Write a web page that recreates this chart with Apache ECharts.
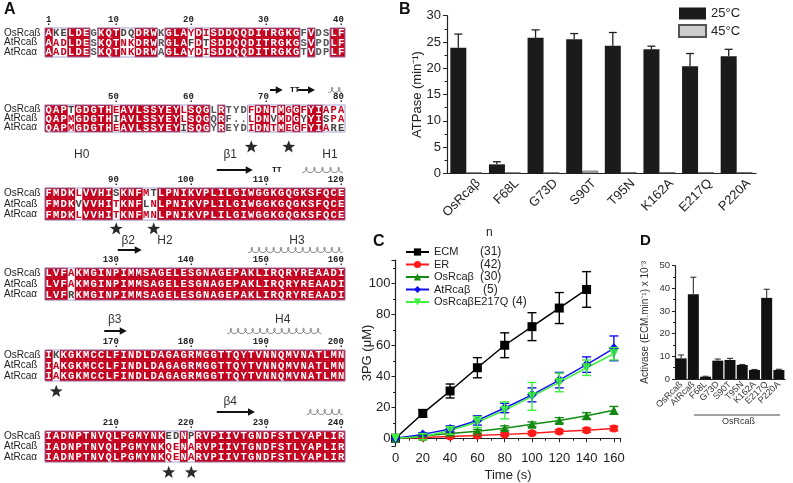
<!DOCTYPE html>
<html><head><meta charset="utf-8">
<script src="https://cdn.jsdelivr.net/npm/echarts@6/dist/echarts.min.js"></script>
<style>html,body{margin:0;padding:0;background:#fff}#c{width:793px;height:483px}</style>
</head><body><div id="c"></div>
<script>
// ================= DATA =================
// Panel A: alignment
const seqNames = ['OsRcaß', 'AtRcaß', 'AtRcaα'];
const seqOsRcab = 'AKELDEGKQTDQDRWKGLAYDISDDQQDITRGKGFVDSLF' + 'QAPTGDGTHEAVLSSYEYLSQGLRTYDFDNTMGGFYIAPA' +
  'FMDKLVVHISKNFMTLPNIKVPLILGIWGGKGQGKSFQCE' + 'LVFAKMGINPIMMSAGELESGNAGEPAKLIRQRYREAADI' +
  'IKKGKMCCLFINDLDAGAGRMGGTTQYTVNNQMVNATLMN' + 'IADNPTNVQLPGMYNKEDNPRVPIIVTGNDFSTLYAPLIR';
const seqAtRcab = 'AADLDESKQTNKDRWRGLAFDTSDDQQDITRGKGSVPDLF' + 'QAPMGDGTHIAVLSSYEYLSQGQRF..LDNVMDGYYISPA' +
  'FMDKVVVHITKNFLNLPNIKVPLILGIWGGKGQGKSFQCE' + 'LVFAKMGINPIMMSAGELESGNAGEPAKLIRQRYREAADI' +
  'IAKGKMCCLFINDLDAGAGRMGGTTQYTVNNQMVNATLMN' + 'IADNPTNVQLPGMYNKQENARVPIIVTGNDFSTLYAPLIR';
const seqAtRcaa = 'AADLDESKQTNKDRWAGLAYDISDDQQDITRGKGTVDPLF' + 'QAPMGDGTHEAVLSSYEYISQGYREYDIDNTMEGFYIARE' +
  'FMDKLVVHITKNFMNLPNIKVPLILGIWGGKGQGKSFQCE' + 'LVFRKMGINPIMMSAGELESGNAGEPAKLIRQRYREAADI' +
  'IAKGKMCCLFINDLDAGAGRMGGTTQYTVNNQMVNATLMN' + 'IADNPTNVQLPGMYNKQENARVPIIVTGNDFSTLYAPLIR';
const nonConserved = [7, 16, 35, 37, 38, 63, 65, 66, 67];
const numberMarks = [1, 10, 20, 30, 40, 50, 60, 70, 80, 90, 100, 110, 120, 130, 140, 150, 160, 170, 180, 190, 200, 210, 220, 230, 240];
const starredResidues = [68, 73, 90, 95, 162, 217, 220];
const helices = [[78.3, 80.2], [80.5, 91.2], [114.8, 120.2], [120.5, 125.4], [147.6, 160.2], [160.5, 162.5], [184.8, 197.4], [235.4, 240.2]];
const strands = [[70.5, 72.2], [74.2, 76.5], [103.4, 108.2], [130.2, 133.4], [168.4, 171.4], [223.4, 228.5]];
const turns = [73.8, 111.4];
const ssLabels = [['H0', 85.4], ['β1', 105.2], ['H1', 118.5], ['β2', 131.6], ['H2', 136.5], ['H3', 154.1], ['β3', 169.8], ['H4', 192.2], ['β4', 225.2]];

// Panel B: ATPase
const categoriesB = ['OsRcaβ', 'F68L', 'G73D', 'S90T', 'T95N', 'K162A', 'E217Q', 'P220A'];
const atpase25 = [23.9, 1.7, 25.8, 25.5, 24.3, 23.6, 20.4, 22.3];
const atpase25Err = [2.6, 0.5, 1.5, 1.1, 2.5, 0.6, 2.4, 1.3];
const atpase45 = [0.15, 0.15, 0.15, 0.5, 0.2, 0.2, 0.2, 0.2];

// Panel C: 3PG time course
const timeC = [0, 20, 40, 60, 80, 100, 120, 140, 160];
const ecm = [0, 16, 30.5, 45.5, 60, 72, 84, 96];
const ecmErr = [0, 2.5, 4.5, 6.5, 8, 9, 10, 11.5];
const er = [0, 0.5, 1.2, 1.8, 2.5, 3.3, 4.3, 5.2, 6.3];
const erErr = [0, 0.6, 0.8, 1, 1, 1.1, 1.2, 1.3, 1.5];
const osRcab = [0, 1.5, 3, 4.5, 6.5, 9, 11.5, 14.5, 18];
const osRcabErr = [0, 0.8, 1, 1.2, 1.5, 1.5, 1.8, 2, 2.5];
const atRcab = [0, 2.5, 6, 11.5, 19.5, 28, 37.5, 47.5, 58];
const atRcabErr = [0, 1, 2, 3, 3, 4.5, 5, 5, 8];
const e217q = [0, 1, 5, 10.5, 18, 27, 36, 45.5, 54.5];
const e217qErr = [0, 2, 2.5, 3.5, 5.5, 9, 6, 5, 4];
const legendC = ['ECM', 'ER', 'OsRcaβ', 'AtRcaβ', 'OsRcaβE217Q'];
const nCounts = ['(31)', '(42)', '(30)', '(5)', '(4)'];

// Panel D: Activase
const categoriesD = ['OsRcaß', 'AtRcaß', 'F68L', 'G73D', 'S90T', 'T95N', 'K162A', 'E217Q', 'P220A'];
const activase = [9.1, 37.4, 1.0, 8.1, 8.4, 6.2, 4.0, 35.8, 4.0];
const activaseErr = [1.5, 7.5, 0.2, 0.7, 0.7, 0.2, 0.2, 3.8, 0.3];

// ================= LAYOUT =================
const FONT = '"Liberation Sans", Arial, sans-serif';
const MONO = '"Liberation Mono", "Courier New", monospace';
const RED = '#c3001e';
const blockTop = [28, 105, 188, 268, 350, 431];
const blockH = [29, 27, 32, 32, 31, 31];
const ssOff = [18, 15, 18, 18, 19, 19];
const labelOff = [0, 0, 33, 27, 30, 29];
const starOff = [10.5, 15, 9, 10.5, 10.5, 10.5];
const countX = [480, 480, 480, 483, 512];
const seqs = [seqOsRcab, seqAtRcab, seqAtRcaa];

function colClass(p) {
  const a = seqOsRcab[p - 1], b = seqAtRcab[p - 1], c = seqAtRcaa[p - 1];
  if (a === b && b === c) return 'i';
  if (nonConserved.includes(p)) return 'n';
  return 's';
}
function letterColor(p, r, cls) {
  if (cls === 'i') return '#ffffff';
  if (cls === 'n') return '#555555';
  const L = seqs.map(s => s[p - 1]);
  const me = L[r], others = L.filter((x, j) => j !== r);
  if (others[0] === others[1] && me !== others[0]) return '#444444';
  return RED;
}
function helixPts(x1, x2, y) {
  const pts = []; const n = Math.max(1, Math.round((x2 - x1) / 7.5));
  const T = 2 * Math.PI * n; const kk = (x2 - x1) / T; const a = 2.1, b = 2.6;
  for (let t = 0; t <= T + 1e-6; t += 0.2) pts.push([x1 + kk * t + a * Math.sin(t), y - b * (1 - Math.cos(t))]);
  return pts;
}
function starPts(cx, cy, R, r0) {
  const pts = [];
  for (let i = 0; i < 10; i++) {
    const ang = -Math.PI / 2 + i * Math.PI / 5; const rr = i % 2 ? r0 : R;
    pts.push([cx + rr * Math.cos(ang), cy + rr * Math.sin(ang)]);
  }
  return pts;
}
function txt(x, y, text, font, fill, align, valign) {
  return { type: 'text', style: { x, y, text, font, fill, align: align || 'center', textAlign: align || 'center', verticalAlign: valign || 'middle', textVerticalAlign: valign || 'middle' } };
}

const grids = [], xAxes = [], yAxes = [], series = [];
for (let k = 0; k < 6; k++) {
  grids.push({ left: 45, width: 300, top: blockTop[k], height: blockH[k] });
  xAxes.push({ gridIndex: k, type: 'value', min: k * 40 + 0.5, max: k * 40 + 40.5, show: false });
  yAxes.push({ gridIndex: k, type: 'category', data: seqNames, inverse: true,
    axisLine: { show: false }, axisTick: { show: false }, splitLine: { show: false },
    axisLabel: { interval: 0, align: 'left', margin: 41, fontSize: 10, color: '#222', fontFamily: FONT } });
  // cells
  const cells = [], meta = [];
  for (let p = k * 40 + 1; p <= k * 40 + 40; p++) {
    const cls = colClass(p);
    for (let r = 0; r < 3; r++) {
      cells.push([p, r]);
      meta.push({ letter: seqs[r][p - 1], color: letterColor(p, r, cls), bg: cls === 'i' ? RED : null });
    }
  }
  series.push({ type: 'custom', xAxisIndex: k, yAxisIndex: k, data: cells, silent: true, z: 2, clip: false,
    renderItem: (params, api) => {
      const m = meta[params.dataIndex];
      const c = api.coord([api.value(0), api.value(1)]); const s = api.size([1, 1]);
      const ch = [];
      if (m.bg) ch.push({ type: 'rect', shape: { x: c[0] - s[0] / 2 - 0.2, y: c[1] - s[1] / 2 - 0.2, width: s[0] + 0.4, height: s[1] + 0.4 }, style: { fill: m.bg } });
      ch.push(txt(c[0], c[1] + 0.5, m.letter, 'bold 10.5px ' + MONO, m.color));
      return { type: 'group', children: ch };
    } });
  // frames
  const runs = []; let st = null;
  for (let p = k * 40 + 1; p <= k * 40 + 41; p++) {
    const ok = p <= k * 40 + 40 && colClass(p) !== 'n';
    if (ok && st === null) st = p;
    if (!ok && st !== null) { runs.push([st, p - 1]); st = null; }
  }
  series.push({ type: 'custom', xAxisIndex: k, yAxisIndex: k, data: runs, silent: true, z: 3, clip: false,
    renderItem: (params, api) => {
      const a = api.coord([api.value(0) - 0.5, 0]); const b = api.coord([api.value(1) + 0.5, 2]); const s = api.size([1, 1]);
      return { type: 'rect', shape: { x: a[0], y: a[1] - s[1] / 2, width: b[0] - a[0], height: b[1] - a[1] + s[1] }, style: { fill: null, stroke: '#8a8ac8', lineWidth: 0.8 } };
    } });
  // decorations: numbers, stars, secondary structure
  const lo = k * 40 + 0.5, hi = k * 40 + 40.5;
  const deco = [];
  numberMarks.filter(n => n > lo && n < hi).forEach(n => deco.push({ t: 'num', x: n, v: String(n) }));
  starredResidues.filter(n => n > lo && n < hi).forEach(n => deco.push({ t: 'star', x: n }));
  helices.filter(h => h[0] > lo && h[0] < hi).forEach(h => deco.push({ t: 'helix', x: h[0], x2: h[1] }));
  strands.filter(h => h[0] > lo && h[0] < hi).forEach(h => deco.push({ t: 'strand', x: h[0], x2: h[1] }));
  turns.filter(h => h > lo && h < hi).forEach(h => deco.push({ t: 'turn', x: h }));
  ssLabels.filter(h => h[1] > lo && h[1] < hi).forEach(h => deco.push({ t: 'label', x: h[1], v: h[0] }));
  series.push({ type: 'custom', xAxisIndex: k, yAxisIndex: k, data: deco.map(d => [d.x, 0]), silent: true, z: 4, clip: false,
    renderItem: (params, api) => {
      const d = deco[params.dataIndex]; const s = api.size([1, 1]);
      const c0 = api.coord([d.x, 0]); const top = c0[1] - s[1] / 2; const bottom = api.coord([d.x, 2])[1] + s[1] / 2;
      const x = c0[0]; const ssY = top - ssOff[k];
      if (d.t === 'num') return { type: 'group', children: [
        txt(x + 2.6, top - 8.5, d.v, 'bold 9px ' + MONO, '#222', 'right'),
        { type: 'rect', shape: { x: x - 0.7, y: top - 4.5, width: 1.4, height: 1.4 }, style: { fill: '#222' } }] };
      if (d.t === 'star') return { type: 'polygon', shape: { points: starPts(x, bottom + starOff[k], 6.8, 2.8) }, style: { fill: '#2a2a2a' } };
      if (d.t === 'helix') { const x2 = api.coord([d.x2, 0])[0];
        return { type: 'polyline', shape: { points: helixPts(x, x2, ssY + 2.5) }, style: { stroke: '#555', lineWidth: 0.8, fill: null } }; }
      if (d.t === 'strand') { const x2 = api.coord([d.x2, 0])[0];
        return { type: 'group', children: [
          { type: 'line', shape: { x1: x, y1: ssY, x2: x2 - 5, y2: ssY }, style: { stroke: '#111', lineWidth: 2 } },
          { type: 'polygon', shape: { points: [[x2 - 7, ssY - 3.8], [x2, ssY], [x2 - 7, ssY + 3.8]] }, style: { fill: '#111' } }] }; }
      if (d.t === 'turn') return txt(x, ssY, 'TT', 'bold 8px ' + MONO, '#111');
      if (d.t === 'label') return txt(x, top - labelOff[k], d.v, '12px ' + FONT, '#333');
      return null;
    } });
}

// ---------- Panel B ----------
grids.push({ left: 447, right: 37, top: 15.7, bottom: 309.7 });
xAxes.push({ gridIndex: 6, type: 'category', data: categoriesB,
  axisLine: { lineStyle: { color: '#222', width: 1.2 } }, axisTick: { show: false },
  axisLabel: { show: false } });
yAxes.push({ gridIndex: 6, type: 'value', min: 0, max: 30, interval: 5,
  name: 'ATPase (min\u207B\u00B9)', nameLocation: 'middle', nameGap: 23, nameMoveOverlap: false,
  nameTextStyle: { fontSize: 13, color: '#222', fontFamily: FONT },
  axisLine: { show: true, lineStyle: { color: '#222', width: 1.2 } },
  axisTick: { show: true, length: 4, lineStyle: { color: '#222' } },
  minorTick: { show: true, splitNumber: 2, length: 2.5, lineStyle: { color: '#222' } },
  splitLine: { show: false },
  axisLabel: { fontSize: 13, color: '#222', margin: 6, fontFamily: FONT } });
series.push({ name: '25°C', type: 'bar', xAxisIndex: 6, yAxisIndex: 6, data: atpase25, barWidth: 16, barGap: '0%',
  itemStyle: { color: '#1b1b1b' } });
series.push({ name: '45°C', type: 'bar', xAxisIndex: 6, yAxisIndex: 6, data: atpase45, barWidth: 16, barGap: '0%',
  itemStyle: { color: '#cdcdcd', borderColor: '#555', borderWidth: 0.8 } });
series.push({ type: 'custom', xAxisIndex: 6, yAxisIndex: 6, silent: true, z: 5,
  data: atpase25.map((v, i) => [i, v, v + atpase25Err[i]]),
  renderItem: (params, api) => {
    const a = api.coord([api.value(0), api.value(1)]), b = api.coord([api.value(0), api.value(2)]);
    const x = a[0] - 8;
    return { type: 'group', children: [
      { type: 'line', shape: { x1: x, y1: a[1], x2: x, y2: b[1] }, style: { stroke: '#222', lineWidth: 1.3 } },
      { type: 'line', shape: { x1: x - 4, y1: b[1], x2: x + 4, y2: b[1] }, style: { stroke: '#222', lineWidth: 1.3 } }] };
  } });
// rotated category labels for B
series.push({ type: 'custom', xAxisIndex: 6, yAxisIndex: 6, silent: true, clip: false, z: 5,
  data: categoriesB.map((c, i) => [i, 0]),
  renderItem: (params, api) => {
    const c = api.coord([api.value(0), 0]);
    return { type: 'text', x: c[0] + 12, y: c[1] + 8, rotation: Math.PI / 4,
      style: { text: categoriesB[params.dataIndex], font: '13px ' + FONT, fill: '#222', align: 'right', textAlign: 'right', verticalAlign: 'middle', textVerticalAlign: 'middle' } };
  } });

// ---------- Panel C ----------
grids.push({ left: 395.5, right: 172.3, top: 260, bottom: 36.3 });
xAxes.push({ gridIndex: 7, type: 'value', min: 0, max: 165, interval: 20,
  name: 'Time (s)', nameLocation: 'middle', nameGap: 23, nameMoveOverlap: false,
  nameTextStyle: { fontSize: 13, color: '#222', fontFamily: FONT },
  axisLine: { lineStyle: { color: '#222', width: 1.2 } },
  axisTick: { show: true, length: 4, lineStyle: { color: '#222' } },
  minorTick: { show: true, splitNumber: 2, length: 2.5, lineStyle: { color: '#222' } },
  splitLine: { show: false },
  axisLabel: { fontSize: 13, color: '#222', margin: 6, showMaxLabel: false, fontFamily: FONT } });
yAxes.push({ gridIndex: 7, type: 'value', min: -5, max: 115, splitNumber: 6,
  name: '3PG (μM)', nameLocation: 'middle', nameGap: 22, nameMoveOverlap: false,
  nameTextStyle: { fontSize: 13, color: '#222', fontFamily: FONT },
  axisLine: { show: true, lineStyle: { color: '#222', width: 1.2 } },
  axisTick: { show: true, length: 4, lineStyle: { color: '#222' } },
  minorTick: { show: true, splitNumber: 2, length: 2.5, lineStyle: { color: '#222' } },
  splitLine: { show: false },
  axisLabel: { fontSize: 13, color: '#222', margin: 5, showMinLabel: false, showMaxLabel: false, fontFamily: FONT } });
const cSeries = [
  { name: 'ECM', data: ecm, err: ecmErr, color: '#000000', symbol: 'rect', size: 9, rot: 0 },
  { name: 'ER', data: er, err: erErr, color: '#ff1a1a', symbol: 'circle', size: 8, rot: 0 },
  { name: 'OsRcaβ', data: osRcab, err: osRcabErr, color: '#128a12', symbol: 'triangle', size: 9, rot: 0 },
  { name: 'AtRcaβ', data: atRcab, err: atRcabErr, color: '#1010ee', symbol: 'diamond', size: 10, rot: 0 },
  { name: 'OsRcaβE217Q', data: e217q, err: e217qErr, color: '#3ef03e', symbol: 'triangle', size: 9, rot: 180 }
];
cSeries.forEach(cs => {
  series.push({ name: cs.name, type: 'line', xAxisIndex: 7, yAxisIndex: 7,
    data: cs.data.map((v, i) => [timeC[i], v]), symbol: cs.symbol, symbolSize: cs.size, symbolRotate: cs.rot,
    lineStyle: { color: cs.color, width: 1.5 }, itemStyle: { color: cs.color }, z: 3 });
  series.push({ type: 'custom', xAxisIndex: 7, yAxisIndex: 7, silent: true, z: 4,
    data: cs.data.map((v, i) => [timeC[i], v - cs.err[i], v + cs.err[i]]).filter((d, i) => cs.err[i] > 0),
    renderItem: (params, api) => {
      const a = api.coord([api.value(0), api.value(1)]), b = api.coord([api.value(0), api.value(2)]);
      const st = { stroke: cs.color, lineWidth: 1.4 };
      return { type: 'group', children: [
        { type: 'line', shape: { x1: a[0], y1: a[1], x2: b[0], y2: b[1] }, style: st },
        { type: 'line', shape: { x1: a[0] - 4.5, y1: a[1], x2: a[0] + 4.5, y2: a[1] }, style: st },
        { type: 'line', shape: { x1: b[0] - 4.5, y1: b[1], x2: b[0] + 4.5, y2: b[1] }, style: st }] };
    } });
});

// ---------- Panel D ----------
grids.push({ left: 675, right: 8, top: 265.7, bottom: 104 });
xAxes.push({ gridIndex: 8, type: 'category', data: categoriesD,
  axisLine: { lineStyle: { color: '#222', width: 1.2 } }, axisTick: { show: false },
  axisLabel: { rotate: 45, fontSize: 9, color: '#333', margin: 4, interval: 0, fontFamily: FONT } });
yAxes.push({ gridIndex: 8, type: 'value', min: 0, max: 50, interval: 10,
  name: 'Activase (ECM.min\u207B\u00B9) x 10\u207B\u00B3', nameLocation: 'middle', nameGap: 25, nameMoveOverlap: false,
  nameTextStyle: { fontSize: 10, color: '#333', fontFamily: FONT },
  axisLine: { show: true, lineStyle: { color: '#222', width: 1.2 } },
  axisTick: { show: true, length: 3, lineStyle: { color: '#222' } },
  minorTick: { show: true, splitNumber: 2, length: 2, lineStyle: { color: '#222' } },
  splitLine: { show: false },
  axisLabel: { fontSize: 9.5, color: '#333', margin: 5, fontFamily: FONT } });
series.push({ type: 'bar', xAxisIndex: 8, yAxisIndex: 8, data: activase, barWidth: 11, itemStyle: { color: '#111' } });
series.push({ type: 'custom', xAxisIndex: 8, yAxisIndex: 8, silent: true, z: 5,
  data: activase.map((v, i) => [i, v, v + activaseErr[i]]),
  renderItem: (params, api) => {
    const a = api.coord([api.value(0), api.value(1)]), b = api.coord([api.value(0), api.value(2)]);
    const st = { stroke: '#333', lineWidth: 1.1 };
    return { type: 'group', children: [
      { type: 'line', shape: { x1: a[0], y1: a[1], x2: b[0], y2: b[1] }, style: st },
      { type: 'line', shape: { x1: a[0] - 3, y1: b[1], x2: a[0] + 3, y2: b[1] }, style: st }] };
  } });

const graphic = [
  { type: 'text', left: 4, top: 2, style: { text: 'A', font: 'bold 16px ' + FONT, fill: '#111' } },
  { type: 'text', left: 399, top: 2, style: { text: 'B', font: 'bold 16px ' + FONT, fill: '#111' } },
  { type: 'text', left: 373, top: 234, style: { text: 'C', font: 'bold 16px ' + FONT, fill: '#111' } },
  { type: 'text', left: 640, top: 233, style: { text: 'D', font: 'bold 15px ' + FONT, fill: '#111' } },
  { type: 'text', left: 486, top: 227, style: { text: 'n', font: '12px ' + FONT, fill: '#222' } },
  { type: 'line', shape: { x1: 694, y1: 415, x2: 780, y2: 415 }, style: { stroke: '#444', lineWidth: 1 } },
  { type: 'text', left: 722, top: 417, style: { text: 'OsRcaß', font: '9px ' + FONT, fill: '#333' } }
];
nCounts.forEach((t, i) => graphic.push({ type: 'text', x: countX[i], y: 252 + 12.5 * i,
  style: { text: t, font: '12px ' + FONT, fill: '#222', verticalAlign: 'middle', textVerticalAlign: 'middle' } }));

const option = {
  animation: false,
  textStyle: { fontFamily: FONT },
  grid: grids, xAxis: xAxes, yAxis: yAxes, series, graphic,
  legend: [
    { data: ['25°C', '45°C'], orient: 'vertical', left: 678, top: 7, padding: 0, itemWidth: 27, itemHeight: 12, itemGap: 4, icon: 'rect',
      textStyle: { fontSize: 13, color: '#222', lineHeight: 12 }, selectedMode: false },
    { data: legendC, orient: 'vertical', left: 405, top: 246, padding: 0, itemWidth: 23, itemHeight: 9, itemGap: 0.5,
      textStyle: { fontSize: 11, color: '#222', lineHeight: 12 }, selectedMode: false }
  ]
};
const chart = echarts.init(document.getElementById('c'));
chart.setOption(option);
</script></body></html>
